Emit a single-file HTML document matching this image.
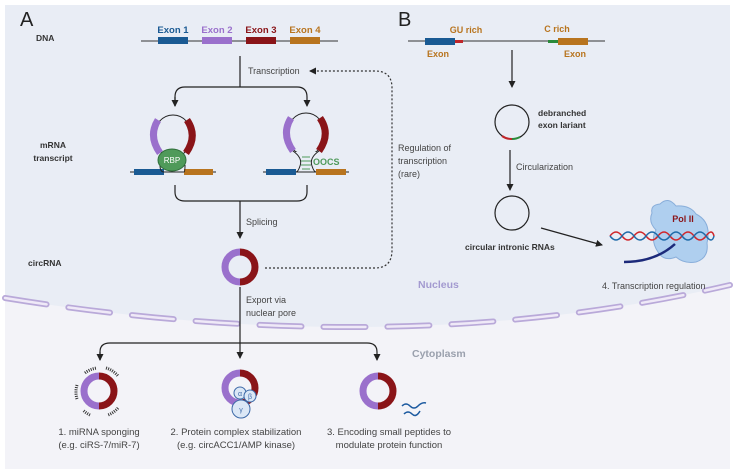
<!DOCTYPE html>
<html><head><meta charset="utf-8"><style>
html,body{margin:0;padding:0;background:#fff;}
svg{display:block;font-family:"Liberation Sans",sans-serif;}
</style></head><body>
<svg width="735" height="474" viewBox="0 0 735 474" xmlns="http://www.w3.org/2000/svg">
<defs>
<marker id="ah" markerWidth="8" markerHeight="8" refX="6" refY="4" orient="auto" markerUnits="userSpaceOnUse"><path d="M0,0.5 L7,4 L0,7.5 Z" fill="#222"/></marker>
</defs>
<rect x="5" y="5" width="725" height="464" fill="#f3f3f8"/>
<path d="M5,5 H730 V285 Q400,362 5,298 Z" fill="#e9edf5"/>
<path d="M5,298 Q400,362 730,285" fill="none" stroke="#b9a9d9" stroke-width="6" stroke-linecap="round" stroke-dasharray="42,22"/>
<path d="M5,298 Q400,362 730,285" fill="none" stroke="#efe9f7" stroke-width="2.5" stroke-linecap="round" stroke-dasharray="42,22"/>

<g font-size="9" fill="#333">
<text x="20" y="26" font-size="20" fill="#222">A</text>
<text x="398" y="26" font-size="20" fill="#222">B</text>
<text x="36" y="41" font-weight="bold" font-size="8.5">DNA</text>
<text x="53" y="148" font-weight="bold" text-anchor="middle" font-size="8.5">mRNA</text>
<text x="53" y="161" font-weight="bold" text-anchor="middle" font-size="8.5">transcript</text>
<text x="28" y="266" font-weight="bold" font-size="8.5">circRNA</text>
</g>
<line x1="141" y1="41" x2="338" y2="41" stroke="#333" stroke-width="1"/>
<rect x="158" y="37" width="30" height="7" fill="#1a5a93"/>
<rect x="202" y="37" width="30" height="7" fill="#9a70cc"/>
<rect x="246" y="37" width="30" height="7" fill="#8a1418"/>
<rect x="290" y="37" width="30" height="7" fill="#b8741e"/>
<g font-size="9.5" font-weight="bold" text-anchor="middle">
<text x="173" y="33" fill="#1a5a93">Exon 1</text>
<text x="217" y="33" fill="#9a70cc">Exon 2</text>
<text x="261" y="33" fill="#8a1418">Exon 3</text>
<text x="305" y="33" fill="#b8741e">Exon 4</text>
</g>
<line x1="240" y1="56" x2="240" y2="87" stroke="#222" stroke-width="1.2"/>
<path d="M175,106 V97 Q175,87 185,87 H297 Q307,87 307,97 V106" fill="none" stroke="#222" stroke-width="1.2" marker-end="url(#ah)"/>
<path d="M175,97 V106" fill="none" stroke="#222" stroke-width="1.2" marker-end="url(#ah)"/>
<text x="248" y="74" font-size="9" fill="#444">Transcription</text>
<!-- left loop -->
<ellipse cx="173" cy="136" rx="19" ry="21" fill="none" stroke="#222" stroke-width="1"/>
<path d="M158,120 Q148,136 160,153" fill="none" stroke="#9a70cc" stroke-width="7"/>
<path d="M187,120 Q198,136 186,153" fill="none" stroke="#8a1418" stroke-width="7"/>
<line x1="130" y1="172" x2="216" y2="172" stroke="#222"/>
<rect x="134" y="169" width="30" height="6" fill="#1a5a93"/>
<rect x="184" y="169" width="29" height="6" fill="#b8741e"/>
<path d="M160,165 Q160,172 164,172 M185,165 Q185,172 184,172" stroke="#222" fill="none"/>
<ellipse cx="172" cy="160" rx="14" ry="11" fill="#4f9a5a" stroke="#2f6e3a"/>
<text x="172" y="163" font-size="8" fill="#fff" text-anchor="middle">RBP</text>
<!-- right loop -->
<ellipse cx="306" cy="134" rx="19" ry="21" fill="none" stroke="#222" stroke-width="1"/>
<path d="M291,118 Q281,134 293,151" fill="none" stroke="#9a70cc" stroke-width="7"/>
<path d="M320,118 Q331,134 319,151" fill="none" stroke="#8a1418" stroke-width="7"/>
<rect x="294" y="152" width="24" height="20" fill="#e9edf5"/>
<path d="M293,151 Q303,158 300,166 Q298,172 296,172 M319,151 Q309,158 312,166 Q314,172 316,172" stroke="#222" fill="none"/>
<g stroke="#4f9a5a" stroke-width="1"><line x1="302" y1="157" x2="310" y2="157"/><line x1="301" y1="161" x2="311" y2="161"/><line x1="301" y1="165" x2="311" y2="165"/><line x1="302" y1="169" x2="310" y2="169"/></g>
<line x1="263" y1="172" x2="349" y2="172" stroke="#222"/>
<rect x="266" y="169" width="30" height="6" fill="#1a5a93"/>
<rect x="316" y="169" width="30" height="6" fill="#b8741e"/>
<text x="313" y="165" font-size="9" font-weight="bold" fill="#4f9a5a">OOCS</text>
<path d="M175,185 V192 Q175,201 185,201 H297 Q307,201 307,192 V185" fill="none" stroke="#222" stroke-width="1.2"/>
<line x1="240" y1="201" x2="240" y2="238" stroke="#222" stroke-width="1.2" marker-end="url(#ah)"/>
<text x="246" y="225" font-size="9" fill="#444">Splicing</text>
<path d="M240,252 A15,15 0 0 0 240,282" fill="none" stroke="#9a70cc" stroke-width="7"/>
<path d="M240,252 A15,15 0 0 1 240,282" fill="none" stroke="#8a1418" stroke-width="7"/>
<path d="M265,268 H375 Q392,268 392,250 V88 Q392,71 375,71 H310" fill="none" stroke="#333" stroke-width="1.2" stroke-dasharray="2,2" marker-end="url(#ah)"/>
<g font-size="9" fill="#444"><text x="398" y="151">Regulation of</text><text x="398" y="164">transcription</text><text x="398" y="177">(rare)</text></g>
<text x="418" y="288" font-size="10.5" font-weight="bold" fill="#a39ad0">Nucleus</text>
<text x="412" y="357" font-size="10.5" font-weight="bold" fill="#9aa0ad">Cytoplasm</text>
<line x1="240" y1="287" x2="240" y2="358" stroke="#222" stroke-width="1.2" marker-end="url(#ah)"/>
<g font-size="9" fill="#444"><text x="246" y="303">Export via</text><text x="246" y="316">nuclear pore</text></g>
<path d="M100,360 V352 Q100,343 110,343 H367 Q377,343 377,352 V360" fill="none" stroke="#222" stroke-width="1.2" marker-end="url(#ah)"/>
<path d="M100,352 V360" fill="none" stroke="#222" stroke-width="1.2" marker-end="url(#ah)"/>
<g fill="none" stroke-width="7">
<path d="M99,376 A15,15 0 0 0 99,406" stroke="#9a70cc"/><path d="M99,376 A15,15 0 0 1 99,406" stroke="#8a1418"/>
<path d="M240,373 A15,15 0 0 0 240,403" stroke="#9a70cc"/><path d="M240,373 A15,15 0 0 1 240,403" stroke="#8a1418"/>
<path d="M378,376 A15,15 0 0 0 378,406" stroke="#9a70cc"/><path d="M378,376 A15,15 0 0 1 378,406" stroke="#8a1418"/>
</g>
<g fill="none" stroke="#333" stroke-width="3" stroke-dasharray="1,1.2">
<path d="M85,373 A24,24 0 0 1 97,368"/><path d="M106,368 A24,24 0 0 1 118,376"/>
<path d="M77,385 A24,24 0 0 0 77,399"/><path d="M118,408 A24,24 0 0 1 108,415"/><path d="M90,415 A24,24 0 0 1 83,410"/>
</g>
<g fill="#dbe7f6" stroke="#3e6aa8" stroke-width="1">
<circle cx="241" cy="409" r="9"/><circle cx="240" cy="393" r="6"/><circle cx="250" cy="396" r="6"/>
</g>
<g font-size="7" fill="#3e6aa8" text-anchor="middle"><text x="240" y="396">α</text><text x="250" y="399">β</text><text x="241" y="412">γ</text></g>
<path d="M402,406 q4,-4 8,0 t8,0 t8,-3 M404,414 q4,-4 8,0 t8,-3" fill="none" stroke="#1c5aa0" stroke-width="1.5"/>
<g font-size="9.5" fill="#444" text-anchor="middle">
<text x="99" y="435">1. miRNA sponging</text><text x="99" y="448">(e.g. ciRS-7/miR-7)</text>
<text x="236" y="435">2. Protein complex  stabilization</text><text x="236" y="448">(e.g. circACC1/AMP kinase)</text>
<text x="389" y="435">3. Encoding small peptides to</text><text x="389" y="448">modulate protein function</text>
</g>
<line x1="408" y1="41" x2="605" y2="41" stroke="#333"/>
<rect x="425" y="38" width="30" height="7" fill="#1a5a93"/><rect x="455" y="40" width="8" height="3" fill="#c0262a"/>
<rect x="548" y="40" width="10" height="3" fill="#2a8a3a"/><rect x="558" y="38" width="30" height="7" fill="#b8741e"/>
<g font-size="9" font-weight="bold" fill="#b8741e" text-anchor="middle">
<text x="466" y="33">GU rich</text><text x="557" y="32">C rich</text><text x="438" y="57">Exon</text><text x="575" y="57">Exon</text></g>
<line x1="512" y1="50" x2="512" y2="87" stroke="#222" stroke-width="1.2" marker-end="url(#ah)"/>
<circle cx="512" cy="122" r="17" fill="none" stroke="#222" stroke-width="1.2"/>
<path d="M502,136 A17,17 0 0 0 512,139" stroke="#c0262a" stroke-width="2" fill="none"/><path d="M512,139 A17,17 0 0 0 520,137" stroke="#2a8a3a" stroke-width="2" fill="none"/>
<g font-size="8.5" font-weight="bold" fill="#333"><text x="538" y="116">debranched</text><text x="538" y="128">exon lariant</text></g>
<line x1="510" y1="150" x2="510" y2="190" stroke="#222" stroke-width="1.2" marker-end="url(#ah)"/>
<text x="516" y="170" font-size="9" fill="#444">Circularization</text>
<circle cx="512" cy="213" r="17" fill="none" stroke="#222" stroke-width="1.2"/>
<text x="465" y="250" font-size="8.5" font-weight="bold" fill="#333">circular intronic RNAs</text>
<line x1="541" y1="228" x2="602" y2="245" stroke="#222" stroke-width="1.2" marker-end="url(#ah)"/>
<path d="M652,213 Q650,205 660,204 Q668,196 676,206 Q690,205 696,214 Q712,222 707,243 Q709,258 696,262 Q684,264 676,257 Q664,262 658,252 Q650,240 656,230 Q648,222 652,213Z" fill="#a9ccef" stroke="#7fa8d8" stroke-width="1" opacity="0.9"/>
<path d="M610,236 q6,-8 12,0 t12,0 t12,0 t12,0 t12,0 t12,0 t12,0 t12,0 t8,0" fill="none" stroke="#d0262a" stroke-width="1.5"/>
<path d="M610,236 q6,8 12,0 t12,0 t12,0 t12,0 t12,0 t12,0 t12,0 t12,0 t8,0" fill="none" stroke="#1e6aa8" stroke-width="1.5"/>
<path d="M624,262 Q655,262 675,244" fill="none" stroke="#1c2a7a" stroke-width="2.5"/>
<text x="683" y="222" font-size="9" font-weight="bold" fill="#8a1418" text-anchor="middle">Pol II</text>
<text x="602" y="289" font-size="9" fill="#444">4. Transcription regulation</text>
</svg>
</body></html>
